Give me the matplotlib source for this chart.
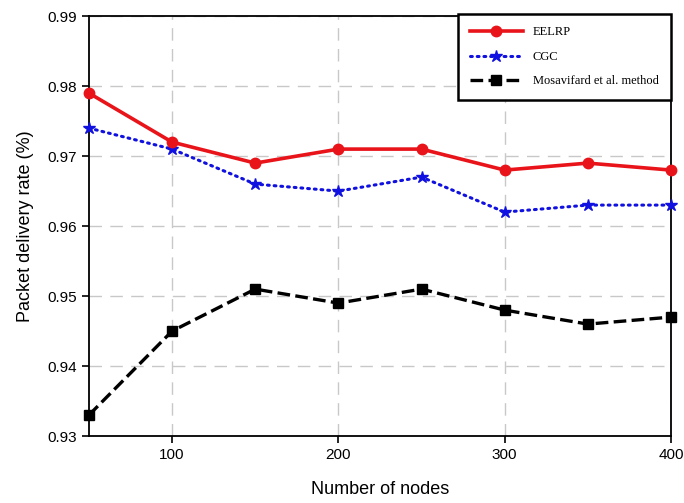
import matplotlib.pyplot as plt

nodes = [50, 100, 150, 200, 250, 300, 350, 400]
eelrp = [0.979, 0.972, 0.969, 0.971, 0.971, 0.968, 0.969, 0.968]
cgc = [0.974, 0.971, 0.966, 0.965, 0.967, 0.962, 0.963, 0.963]
mosavifard = [0.933, 0.945, 0.951, 0.949, 0.951, 0.948, 0.946, 0.947]

xticks = [100, 200, 300, 400]
yticks = [0.93, 0.94, 0.95, 0.96, 0.97, 0.98, 0.99]

plt.rcParams['font.family'] = ['Liberation Sans', 'DejaVu Sans']

fig = plt.figure(figsize=(6.84, 5.03), dpi=100)
ax = fig.add_axes([0.130, 0.133, 0.851, 0.835])

ax.plot(nodes, eelrp, color='#e8141a', lw=2.6, marker='o', ms=7.5, label='EELRP', clip_on=False, zorder=5)
ax.plot(nodes, cgc, color='#1010e0', lw=2.2, ls=(0, (0.6, 1.6)), dash_capstyle='round',
        marker='*', ms=9, label='CGC', clip_on=False, zorder=4)
ax.plot(nodes, mosavifard, color='black', lw=2.4, ls=(0, (3.8, 1.6)), marker='s', ms=7,
        label='Mosavifard et al. method', clip_on=False, zorder=4)

ax.set_xlim(50, 400)
ax.set_ylim(0.93, 0.99)
ax.set_xticks(xticks)
ax.set_yticks(yticks)
ax.set_yticklabels([f'{v:.2f}' for v in yticks])
ax.tick_params(direction='out', length=5, width=1.2, labelsize=11, colors='black')
ax.grid(True, color='#c8c8c8', ls=(0, (9, 6)), lw=1)
for s in ax.spines.values():
    s.set_linewidth(1.3)

ax.set_xlabel('Number of nodes', fontsize=13, labelpad=14)
ax.set_ylabel('Packet delivery rate (%)', fontsize=13, labelpad=10)

leg = ax.legend(loc='upper right', bbox_to_anchor=(1.0, 1.005), prop={'family': 'Liberation Serif', 'size': 9},
                fancybox=False, framealpha=1, edgecolor='black', labelspacing=1.0,
                handlelength=4.2, borderpad=1.0, borderaxespad=0)
leg.get_frame().set_linewidth(1.8)
leg.set_zorder(10)

fig.savefig('out.png', dpi=100)
